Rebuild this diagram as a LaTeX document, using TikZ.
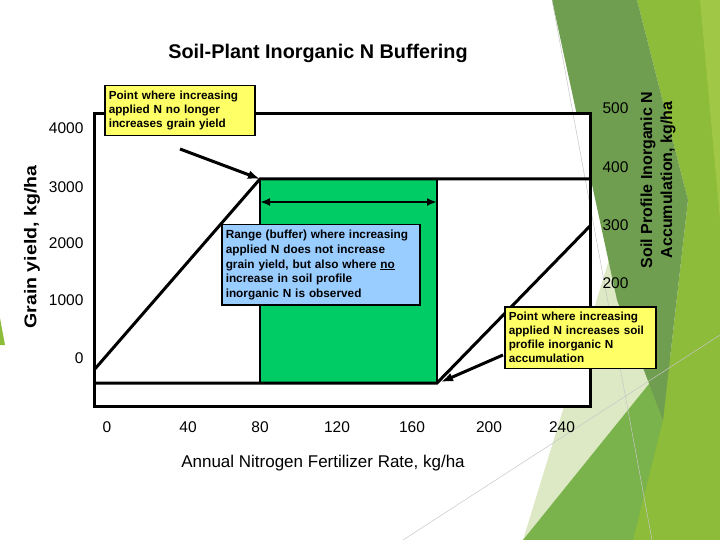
\documentclass[tikz,border=0pt]{standalone}
\usepackage{fontspec}
\setmainfont{Liberation Sans}
\usepackage{tikz}
\usetikzlibrary{positioning,arrows.meta}

\definecolor{noteyellow}{RGB}{255,255,102}
\definecolor{bufferblue}{RGB}{153,204,255}
\definecolor{buffergreen}{RGB}{0,204,102}
\definecolor{facetpale}{RGB}{221,233,197}
\definecolor{facetmid}{RGB}{122,178,76}
\definecolor{facetdark}{RGB}{112,158,80}
\definecolor{facetlime}{RGB}{141,187,58}
\definecolor{facetlight}{RGB}{160,199,70}

\begin{document}
\begin{tikzpicture}[x=1pt,y=-1pt,>={Latex[length=12pt,width=9pt]}]
        % Setup the styles
        \tikzset{note style/.style={draw,
                                    line width=1.5pt,
                                    fill=noteyellow,
                                    anchor=north west,
                                    align=left,
                                    inner xsep=4pt,
                                    inner ysep=5.5pt,
                                    font=\fontsize{11.7}{14}\selectfont\bfseries},
                 tick style/.style={font=\fontsize{15.5}{18}\selectfont},
                 curve style/.style={line width=3pt}}
        \useasboundingbox (0,0) rectangle (720,540);

        % Draw the background facets
        \fill[facetpale] (612,250) -- (668,400) -- (523,540) -- cycle;
        \fill[facetmid] (523,540) -- (720,296) -- (720,540) -- cycle;
        \fill[facetlime] (637,0) -- (720,0) -- (720,540) -- (633,540) -- (663,420) -- (688,200) -- cycle;
        \fill[facetlight] (700,0) -- (720,0) -- (720,220) -- cycle;
        \fill[facetdark] (552,0) -- (637,0) -- (688,200) -- (663,420) -- (617,300) -- cycle;
        \fill[facetlime] (0,318) -- (5,345) -- (0,345) -- cycle;
        \fill[white] (94,114) rectangle (590,406);
        \draw[gray!45, line width=0.5pt] (552,0) -- (652,540);
        \draw[gray!45, line width=0.5pt] (403,540) -- (720,335);

        % Draw the curve points
        \coordinate (yield0) at (94,370);
        \coordinate (yieldknee) at (260,179);
        \coordinate (yieldend) at (590,179);
        \coordinate (soil0) at (94,383);
        \coordinate (soilknee) at (437,383);
        \coordinate (soilend) at (590,226);
        \coordinate (rangeleft) at (260,202);
        \coordinate (rangeright) at (437,202);

        % Draw the buffer range and the curves
        \draw[fill=buffergreen, line width=2pt] (yieldknee) rectangle (soilknee);
        \draw[curve style] (yield0) -- (yieldknee) -- (yieldend);
        \draw[curve style] (soil0) -- (soilknee) -- (soilend);
        \draw[{Latex[length=10pt,width=8pt]}-{Latex[length=10pt,width=8pt]}, line width=2.5pt] (rangeleft) -- (rangeright);
        \draw[line width=3pt] (94,114) rectangle (590,406);

        % Draw the notes
        \node[note style, text width=142] at (104,85) (flat) {Point where increasing\\applied N no longer\\increases grain yield};
        \node[note style, fill=bufferblue, text width=190, font=\fontsize{11.8}{14.6}\selectfont\bfseries] at (221,224) (buffer) {Range (buffer) where increasing\\applied N does not increase\\grain yield, but also where \underline{no}\\increase in soil profile\\inorganic N is observed};
        \node[note style, text width=143] at (504,306) (accum) {Point where increasing\\applied N increases soil\\profile inorganic N\\accumulation};

        % Connect the notes with arrows
        \coordinate (flattail) at (180,149);
        \coordinate (accumtail) at (503,355);
        \coordinate (accumhead) at (441,382);
        \draw[->, line width=3pt] (flattail) -- (yieldknee);
        \draw[->, line width=3pt] (accumtail) -- (accumhead);

        % Draw the axis labels
        \foreach \val/\ypos in {4000/128,3000/187,2000/243,1000/300,0/358}
            \node[tick style, anchor=east] (left\val) at (87,\ypos) {\val};
        \foreach \val/\ypos in {500/108,400/167,300/225,200/283}
            \node[tick style, anchor=west] (right\val) at (599,\ypos) {\val};
        \foreach \val/\xpos in {0/107,40/188,80/260,120/337,160/412,200/489,240/562}
            \node[tick style] (bottom\val) at (\xpos,427) {\val};

        % Draw the titles
        \node[font=\fontsize{19.8}{22}\selectfont\bfseries] (title) at (318,53) {Soil-Plant Inorganic N Buffering};
        \node[font=\fontsize{17}{20}\selectfont] (xtitle) at (323,463) {Annual Nitrogen Fertilizer Rate, kg/ha};
        \node[rotate=90, font=\fontsize{17}{20}\selectfont\bfseries, xscale=1.15] (ytitle) at (32,247) {Grain yield, kg/ha};
        \node[rotate=90, align=center, font=\fontsize{16}{20}\selectfont\bfseries] (y2title) at (658,180) {Soil Profile Inorganic N\\Accumulation, kg/ha};
\end{tikzpicture}
\end{document}
